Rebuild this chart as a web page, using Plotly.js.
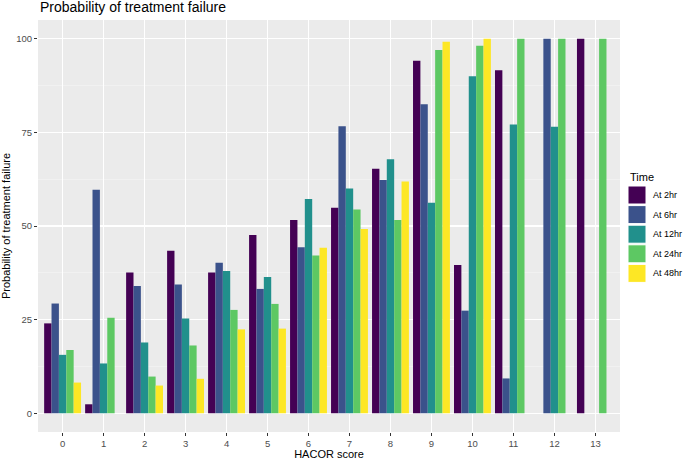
<!DOCTYPE html>
<html>
<head>
<meta charset="utf-8">
<script src="https://cdn.plot.ly/plotly-3.0.1.min.js"></script>
<style>html,body{margin:0;padding:0;background:#fff;}#chart{width:685px;height:460px;}</style>
</head>
<body>
<div id="chart"></div>
<script>
const categories = ["0","1","2","3","4","5","6","7","8","9","10","11","12","13"];
const seriesNames = ["At 2hr","At 6hr","At 12hr","At 24hr","At 48hr"];
const at2hr  = [24.0, 2.4, 37.6, 43.4, 37.6, 47.6, 51.6, 54.9, 65.3, 94.1, 39.6, 91.6, null, 100];
const at6hr  = [29.3, 59.7, 34.0, 34.4, 40.2, 33.2, 44.3, 76.6, 62.3, 82.5, 27.4, 9.3, 100, null];
const at12hr = [15.6, 13.3, 18.9, 25.3, 38.0, 36.4, 57.2, 60.0, 67.8, 56.2, 90.0, 77.1, 76.5, null];
const at24hr = [16.9, 25.5, 9.8, 18.1, 27.6, 29.2, 42.1, 54.4, 51.6, 97.0, 98.1, 100, 100, 100];
const at48hr = [8.2, null, 7.4, 9.2, 22.4, 22.6, 44.2, 49.2, 61.9, 99.2, 100, null, null, null];
const yTicks = [0, 25, 50, 75, 100];
const colors = ["#440154", "#3B528B", "#21908C", "#5DC863", "#FDE725"];

const seriesValues = [at2hr, at6hr, at12hr, at24hr, at48hr];
const traces = seriesValues.map((vals, i) => ({
  type: "bar",
  name: seriesNames[i],
  x: categories,
  y: vals,
  marker: {color: colors[i], line: {width: 0}},
  hoverinfo: "x+y+name",
  showlegend: false
}));

const W = 685, H = 460;
const M = {l: 38, r: 65, t: 20, b: 28};
const pw = W - M.l - M.r, ph = H - M.t - M.b;
const px2x = px => (px - M.l) / pw;
const px2y = py => (H - M.b - py) / ph;

const font = "'Liberation Sans', Arial, sans-serif";

// ggplot-style legend (keys + labels) built from the series names/colours
const legendLeft = 628, keySize = 18, keyTop0 = 186, keyStep = 19.6;
const shapes = [], annotations = [];
annotations.push({xref: "paper", yref: "paper", x: px2x(legendLeft), y: px2y(177), xanchor: "left", yanchor: "middle",
  text: "Time", showarrow: false, font: {size: 11, color: "#000", family: font}});
seriesNames.forEach((name, i) => {
  const top = keyTop0 + i * keyStep;
  shapes.push({type: "rect", xref: "paper", yref: "paper",
    x0: px2x(legendLeft), x1: px2x(legendLeft + keySize), y0: px2y(top + keySize), y1: px2y(top),
    fillcolor: colors[i], line: {color: "#FFFFFF", width: 1}});
  annotations.push({xref: "paper", yref: "paper", x: px2x(legendLeft + keySize + 5), y: px2y(top + keySize / 2),
    xanchor: "left", yanchor: "middle", text: name, showarrow: false,
    font: {size: 9, color: "#000", family: font}});
});

const layout = {
  width: W, height: H,
  margin: {l: M.l, r: M.r, t: M.t, b: M.b, pad: 0, autoexpand: false},
  paper_bgcolor: "#ffffff",
  plot_bgcolor: "#EBEBEB",
  barmode: "group",
  bargap: 0.1,
  bargroupgap: 0,
  font: {family: font, color: "#000"},
  title: {text: "Probability of treatment failure", x: 40/685, xanchor: "left", y: 1 - 7/460, yanchor: "middle",
          font: {size: 14, color: "#000", family: font}},
  xaxis: {
    type: "category",
    categoryorder: "array", categoryarray: categories,
    range: [-0.6, 13.6],
    showgrid: true, gridcolor: "#FFFFFF", gridwidth: 1.1,
    ticks: "outside", ticklen: 3, tickcolor: "#333333", tickwidth: 1,
    tickfont: {size: 9.5, color: "#4D4D4D", family: font},
    showline: false, zeroline: false,
    title: {text: "HACOR score", font: {size: 11, color: "#000", family: font}, standoff: 3}
  },
  yaxis: {
    range: [-5, 105],
    tickvals: yTicks, ticktext: yTicks.map(String),
    showgrid: true, gridcolor: "#FFFFFF", gridwidth: 1.1,
    minor: {tickvals: [12.5, 37.5, 62.5, 87.5], showgrid: true, gridcolor: "#F7F7F7", gridwidth: 0.5, ticks: ""},
    ticks: "outside", ticklen: 3, tickcolor: "#333333", tickwidth: 1,
    tickfont: {size: 9.5, color: "#4D4D4D", family: font},
    showline: false, zeroline: false,
    title: {text: "Probability of treatment failure", font: {size: 11, color: "#000", family: font}, standoff: 4}
  },
  shapes: shapes,
  annotations: annotations,
  showlegend: false
};

Plotly.newPlot("chart", traces, layout, {displayModeBar: false, staticPlot: true});
</script>
</body>
</html>
